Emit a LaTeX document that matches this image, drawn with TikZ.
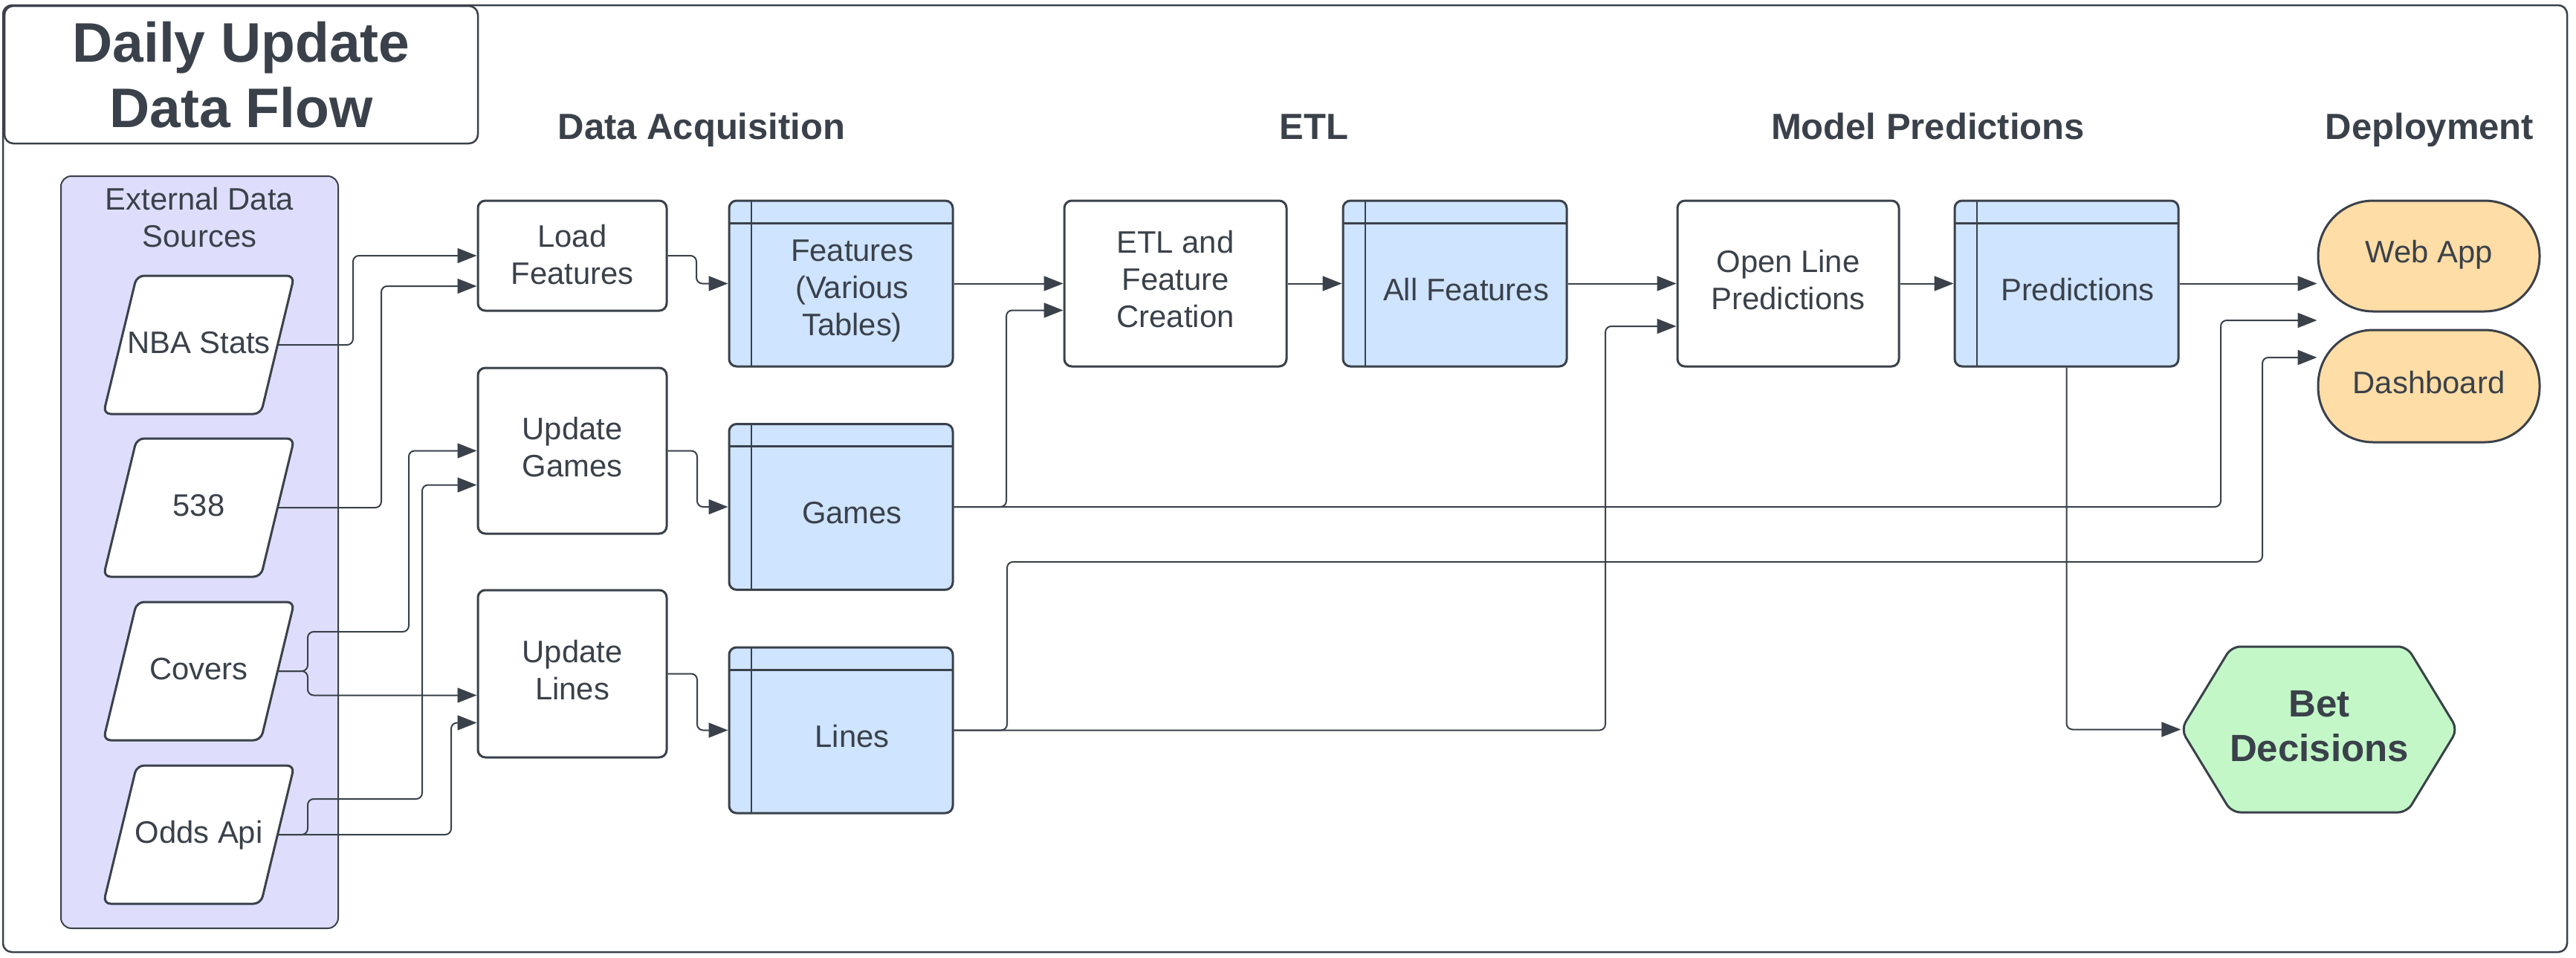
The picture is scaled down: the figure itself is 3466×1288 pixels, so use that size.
\documentclass[tikz,border=0pt]{standalone}
\usepackage{fontspec}
\setmainfont{Liberation Sans}
\usetikzlibrary{arrows.meta,calc}
\definecolor{ln}{HTML}{3A414A}
\definecolor{contc}{HTML}{DEDEFC}
\definecolor{tblc}{HTML}{CFE4FF}
\definecolor{depc}{HTML}{FFDDA6}
\definecolor{betc}{HTML}{C3F7C8}
\newcommand\srcpara[4]{%
  \draw[srcshape] (#2-83.5,#3-93) -- (#2+128.5,#3-93) -- (#2+83.5,#3+93) -- (#2-128.5,#3+93) -- cycle;
  \node[srctext] (#1) at (#2,#3) {#4};}
\newcommand\tbltext[3]{\node[txt] (#1t) at ($(#1.center)+(15,#2)$) {#3};}
\begin{document}
\begin{tikzpicture}[x=1pt,y=-1pt,
  every node/.style={inner sep=0pt, text=ln, align=center, font=\fontsize{41.8pt}{50pt}\selectfont},
  txt/.style={},
  hdr/.style={anchor=base, font=\bfseries\fontsize{49pt}{58pt}\selectfont},
  frame/.style={draw=ln, line width=2.5pt, rounded corners=12pt},
  proc/.style={draw=ln, line width=3pt, fill=white, rounded corners=10pt, minimum width=#1, text depth=10pt},
  proc/.default=254pt,
  tblbox/.style={draw=ln, line width=3pt, fill=tblc, rounded corners=10pt,
    minimum width=301pt, minimum height=223pt,
    path picture={
      \draw[ln, line width=3pt] ([yshift=-30pt]path picture bounding box.north west) -- ([yshift=-30pt]path picture bounding box.north east);
      \draw[ln, line width=2.5pt] ([xshift=30pt]path picture bounding box.north west) -- ([xshift=30pt]path picture bounding box.south west);}},
  srcshape/.style={draw=ln, line width=3pt, fill=white, rounded corners=10pt},
  srctext/.style={minimum width=212pt, minimum height=186pt, text depth=7pt},
  term/.style={draw=ln, line width=3pt, fill=depc, rounded corners=74pt, minimum width=298pt, text depth=6pt},
  conn/.style={draw=ln, line width=2pt, rounded corners=8pt, -{Triangle[length=26pt,width=20pt]}}
]
\useasboundingbox (0,0) rectangle (3466,1288);
% outer frame
\draw[frame] (4,7) rectangle (3454,1281);
% title
\node[draw=ln, line width=2.5pt, fill=white, rounded corners=12pt, minimum width=637pt, minimum height=185pt,
  font=\bfseries\fontsize{75pt}{88pt}\selectfont] (title) at (324.5,100.5) {Daily Update\\Data Flow};
% column headers
\node[hdr] (hacq) at (944,187) {Data Acquisition};
\node[hdr] (hetl) at (1768,187) {ETL};
\node[hdr] (hmod) at (2594,187) {Model Predictions};
\node[hdr] (hdep) at (3269,187) {Deployment};
% external sources container
\node[draw=ln, line width=2pt, fill=contc, rounded corners=14pt, minimum width=373pt, minimum height=1012pt] (ext) at (268.5,743) {};
\node[txt] (extl) at (268.5,293) {External Data\\Sources};
\srcpara{nba}{267.5}{464}{NBA Stats}
\srcpara{fte}{267.5}{683}{538}
\srcpara{cov}{267.5}{903}{Covers}
\srcpara{odds}{267.5}{1123}{Odds Api}
% process boxes
\node[proc, minimum height=148pt, text depth=3pt] (load) at (770,344) {Load\\Features};
\node[proc, minimum height=223pt] (upg) at (770,606.5) {Update\\Games};
\node[proc, minimum height=225pt] (upl) at (770,906.5) {Update\\Lines};
\node[proc=299pt, minimum height=223pt, text depth=12pt] (etl) at (1581.5,381.5) {ETL and\\Feature\\Creation};
\node[proc=298pt, minimum height=223pt] (olp) at (2406,381.5) {Open Line\\Predictions};
% tables
\node[tblbox] (feat) at (1131.5,381.5) {};
\tbltext{feat}{10}{Features\\(Various\\Tables)}
\node[tblbox] (games) at (1131.5,682) {};
\tbltext{games}{8}{Games}
\node[tblbox] (lines) at (1131.5,982.5) {};
\tbltext{lines}{8}{Lines}
\node[tblbox] (allf) at (1957.5,381.5) {};
\tbltext{allf}{8}{All Features}
\node[tblbox] (pred) at (2780.5,381.5) {};
\tbltext{pred}{8}{Predictions}
% deployment
\node[term, minimum height=149pt, text depth=13pt] (web) at (3268,344.5) {Web App};
\node[term, minimum height=151pt, text depth=10pt] (dash) at (3268,519.5) {Dashboard};
% bet decisions hexagon
\draw[draw=ln, line width=3pt, fill=betc, rounded corners=12pt]
  (2934.5,981.5) -- (3002.5,870) -- (3238.5,870) -- (3306.5,981.5) -- (3238.5,1093) -- (3002.5,1093) -- cycle;
\node[minimum width=372pt, minimum height=223pt] (bet) at (3120.5,981.5) {};
\node[font=\bfseries\fontsize{51pt}{60pt}\selectfont] (betl) at (3120.5,977) {Bet\\Decisions};
% connectors: sources
\draw[conn] (nba.east) -| (475,344) -- (load.west);
\draw[conn] (fte.east) -| (513,385) -- ([yshift=-41pt]load.west);
\draw[conn] (cov.east) -| (414,850) -| (550,606.5) -- (upg.west);
\draw[conn] (cov.east) -| (414,935.5) -- ([yshift=-29pt]upl.west);
\draw[conn] (odds.east) -| (414,1075) -| (568,652.5) -- ([yshift=-46pt]upg.west);
\draw[conn] (odds.east) -| (607,972.5) -- ([yshift=-66pt]upl.west);
% acquisition to tables
\draw[conn] (load.east) -| (937,381.5) -- (feat.west);
\draw[conn] (upg.east) -| (938,682) -- (games.west);
\draw[conn] (upl.east) -| (938,982.5) -- (lines.west);
% ETL
\draw[conn] (feat.east) -- (etl.west);
\draw[conn] (games.east) -| (1354,417.5) -- ([yshift=-36pt]etl.west);
\draw[conn] (etl.east) -- (allf.west);
\draw[conn] (allf.east) -- (olp.west);
\draw[conn] (lines.east) -| (2160,439) -- ([yshift=-57.5pt]olp.west);
\draw[conn] (olp.east) -- (pred.west);
% deployment
\draw[conn] (pred.east) -- ([yshift=-37pt]web.west);
\draw[conn] (games.east) -| (2988,431) -- ([yshift=-86.5pt]web.west);
\draw[conn] (lines.east) -| (1355,756) -| (3044,481) -- ([yshift=38.5pt]dash.west);
\draw[conn] (pred.south) |- (bet.west);
\end{tikzpicture}
\end{document}
